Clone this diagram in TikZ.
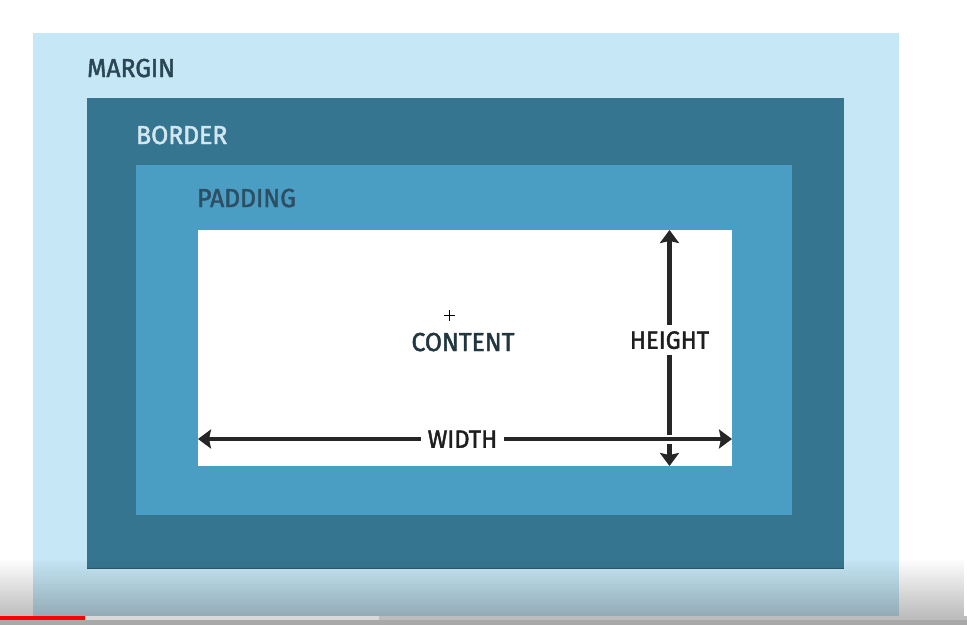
\documentclass[tikz,border=0pt]{standalone}
\usepackage{fontspec}
\newfontfamily\labfont{Fira Sans}[FakeStretch=0.95, FakeBold=1.8]
\usetikzlibrary{arrows.meta,fadings}
\definecolor{marginc}{HTML}{C6E7F6}
\definecolor{borderc}{HTML}{36758F}
\definecolor{borderedge}{HTML}{2A5A70}
\definecolor{paddingc}{HTML}{4A9DC3}
\definecolor{margintext}{HTML}{2B4756}
\definecolor{bordertext}{HTML}{D4E7F0}
\definecolor{paddingtext}{HTML}{2D4E63}
\definecolor{contenttext}{HTML}{22363F}
\definecolor{dimtext}{HTML}{1E1E1E}
\definecolor{arrowc}{HTML}{262626}
\definecolor{barbg}{HTML}{BDBDBD}
\definecolor{barload}{HTML}{D9D9D9}
\definecolor{barplay}{HTML}{FF0000}
\definecolor{barbase}{HTML}{A9A9A9}
\tikzset{
  layer/.style={rectangle, draw=none, inner sep=0pt, outer sep=0pt, anchor=north west},
  lab/.style={font=\labfont\fontsize{26}{26}\selectfont, inner sep=0pt},
  dimlab/.style={font=\labfont\fontsize{25}{25}\selectfont, text=dimtext, text height=17.5pt, text depth=0pt, inner xsep=7pt, inner ysep=6pt},
  dimline/.style={draw=arrowc, line width=4.2pt},
  dimtip/.style={-{Stealth[length=13pt,width=19pt,inset=2pt]}}
}
\begin{document}
\begin{tikzpicture}[x=1pt,y=-1pt]
\useasboundingbox (0,0) rectangle (967,625);
\fill[white] (0,0) rectangle (967,625);
% nested boxes
\node[layer, fill=marginc, minimum width=866pt, minimum height=583pt] (margin) at (33,33) {};
\node[layer, fill=borderc, minimum width=757pt, minimum height=470pt] (border) at (87,98) {};
\draw[borderedge, line width=1pt] (border.south west) -- (border.south east);
\node[layer, fill=paddingc, minimum width=656pt, minimum height=350pt] (padding) at (136,165) {};
\node[layer, fill=white, minimum width=534pt, minimum height=236pt] (content) at (198,230) {};
% labels
\node[lab, text=margintext, anchor=base west] (marginlab) at (87,77) {MARGIN};
\node[lab, text=bordertext, anchor=base west] (borderlab) at (136,144) {BORDER};
\node[lab, text=paddingtext, anchor=base west] (paddinglab) at (197,207) {PADDING};
\node[lab, text=contenttext, anchor=base] (contentlab) at (463,351) {CONTENT};
% cursor
\coordinate (cur) at (449,315);
\draw[black, line width=0.9pt] ([xshift=-5.5pt]cur) -- ([xshift=5.5pt]cur) ([yshift=-5.5pt]cur) -- ([yshift=5.5pt]cur);
% height
\node[dimlab] (heightlab) at (669.5,340) {HEIGHT};
\coordinate (htop) at (content.north -| heightlab);
\coordinate (hbot) at (content.south -| heightlab);
\draw[dimline, dimtip] (heightlab.north) -- (htop);
\draw[dimline, dimtip] (heightlab.south) -- (hbot);
% width
\node[dimlab] (widthlab) at (462.5,439) {WIDTH};
\coordinate (wl) at (content.west |- widthlab);
\coordinate (wr) at (content.east |- widthlab);
\coordinate (cross) at (heightlab |- widthlab);
\draw[white, line width=9pt] ([xshift=-6pt]cross) -- ([xshift=6pt]cross);
\draw[dimline, dimtip] (widthlab.west) -- (wl);
\draw[dimline, dimtip] (widthlab.east) -- (wr);
% video player overlay
\fill[black, fill opacity=0.26, path fading=north] (0,558) rectangle (967,616);
\fill[barbg] (0,616) rectangle (967,620);
\fill[barload] (0,616) rectangle (379,620);
\fill[barplay] (0,616) rectangle (85,620);
\fill[barbase] (0,620) rectangle (967,625);
\end{tikzpicture}
\end{document}
